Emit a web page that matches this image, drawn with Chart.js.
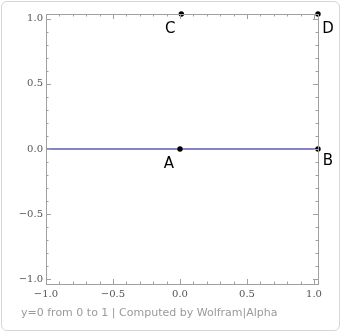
<!DOCTYPE html>
<html>
<head>
<meta charset="utf-8">
<script src="https://cdn.jsdelivr.net/npm/chart.js@4"></script>
<style>
  html, body { margin: 0; padding: 0; background: #fff; }
  #wrap { position: relative; width: 342px; height: 333px; }
  #frame {
    position: absolute; left: 1px; top: 1px; width: 337px; height: 328px;
    border: 1px solid #d6d6d6; border-radius: 6px;
  }
  #plot { position: absolute; left: 0; top: 0; }
  #caption {
    position: absolute; left: 21px; top: 306px;
    font: 11px "DejaVu Sans", sans-serif; color: #9a9a9a; white-space: nowrap;
  }
</style>
</head>
<body>
<div id="wrap">
  <div id="frame"></div>
  <canvas id="plot" width="342" height="333"></canvas>
  <div id="caption">y=0 from 0 to 1 | Computed by Wolfram|Alpha</div>
</div>
<script>
// axis ticks
const xTickValues = [-1, -0.5, 0, 0.5, 1];
const yTickValues = [-1, -0.5, 0, 0.5, 1];
const minorStep = 0.1;

// the curve y=0
const lineX = [-1, 1.03];
const lineY = [0, 0];

// marked points
const pointNames = ['A', 'B', 'C', 'D'];
const pointX = [0, 1.03, 0.01, 1.03];
const pointY = [0, 0, 1.035, 1.035];
// label offsets in px (dx, dy) from each point
const labelDX = [-11, 10, -11, 10];
const labelDY = [15, 12, 15, 15];

const axisColor = '#a0a0a0';
const tickFont = { family: '"DejaVu Serif", serif', size: 10 };

function fmt(v) {
    const s = Math.abs(v).toFixed(1);
    return v < 0 ? '\u2212' + s : s;
}

// Frame with inward major/minor ticks on all four sides
const framePlugin = {
    id: 'frameTicks',
    afterDraw(chart) {
        const { ctx, chartArea: a, scales } = chart;
        const xs = scales.x, ys = scales.y;
        ctx.save();
        ctx.strokeStyle = axisColor;
        ctx.lineWidth = 1;
        ctx.strokeRect(Math.round(a.left) + 0.5, Math.round(a.top) + 0.5,
            Math.round(a.right - a.left), Math.round(a.bottom - a.top));
        ctx.beginPath();
        for (let i = -10; i <= 10; i++) {
            const v = i * minorStep;
            const major = i % 5 === 0;
            const len = major ? 5 : 2.5;
            const px = Math.round(xs.getPixelForValue(v)) + 0.5;
            ctx.moveTo(px, a.bottom); ctx.lineTo(px, a.bottom - len);
            ctx.moveTo(px, a.top); ctx.lineTo(px, a.top + len);
            const py = Math.round(ys.getPixelForValue(v)) + 0.5;
            ctx.moveTo(a.left, py); ctx.lineTo(a.left + len, py);
            ctx.moveTo(a.right, py); ctx.lineTo(a.right - len, py);
        }
        ctx.stroke();

        // point labels
        const meta = chart.getDatasetMeta(1);
        ctx.fillStyle = '#000';
        ctx.font = '15px "DejaVu Sans", sans-serif';
        ctx.textAlign = 'center';
        ctx.textBaseline = 'middle';
        meta.data.forEach((el, i) => {
            ctx.fillText(pointNames[i], el.x + labelDX[i], el.y + labelDY[i]);
        });
        ctx.restore();
    }
};

new Chart(document.getElementById('plot'), {
    type: 'scatter',
    data: {
        datasets: [
            {
                type: 'line',
                data: lineX.map((x, i) => ({ x, y: lineY[i] })),
                borderColor: '#8383c6',
                borderWidth: 2,
                pointRadius: 0,
                fill: false,
                order: 2
            },
            {
                data: pointX.map((x, i) => ({ x, y: pointY[i] })),
                backgroundColor: '#000',
                borderColor: '#000',
                borderWidth: 0,
                pointRadius: 2.7,
                clip: false,
                order: 1
            }
        ]
    },
    options: {
        responsive: false,
        animation: false,
        events: [],
        layout: { padding: { left: 0, top: 14, right: 24, bottom: 29 } },
        plugins: { legend: { display: false }, tooltip: { enabled: false } },
        scales: {
            x: {
                type: 'linear',
                min: -1,
                max: 1.03,
                grid: { display: false, drawTicks: false },
                border: { display: false },
                afterBuildTicks: s => { s.ticks = xTickValues.map(v => ({ value: v })); },
                afterFit: s => { s.height = 20; },
                ticks: {
                    callback: v => fmt(v),
                    color: '#555',
                    font: tickFont,
                    padding: 4,
                    maxRotation: 0,
                    autoSkip: false
                }
            },
            y: {
                type: 'linear',
                min: -1.035,
                max: 1.035,
                grid: { display: false, drawTicks: false },
                border: { display: false },
                afterBuildTicks: s => { s.ticks = yTickValues.map(v => ({ value: v })); },
                afterFit: s => { s.width = 46; },
                ticks: {
                    callback: v => fmt(v),
                    color: '#555',
                    font: tickFont,
                    padding: 3,
                    autoSkip: false
                }
            }
        }
    },
    plugins: [framePlugin]
});
</script>
</body>
</html>
